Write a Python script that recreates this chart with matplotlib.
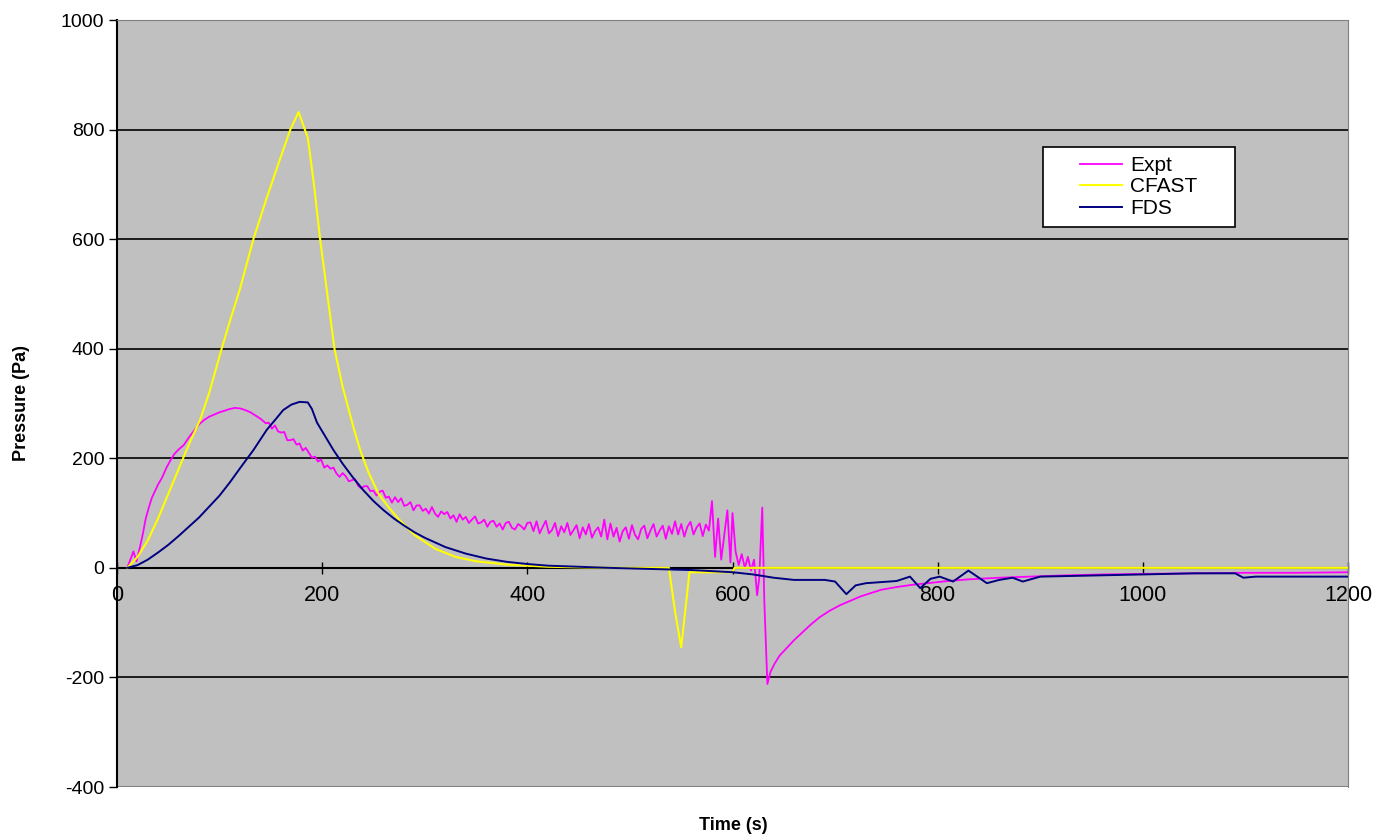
#!/usr/bin/env python3
"""
Pressure vs time: experiment compared with CFAST and FDS predictions
"""

import matplotlib.pyplot as plt
from matplotlib.patches import Rectangle

# Experimental pressure (Pa)
expt_t = [
    10, 13, 16, 19, 22, 25, 28, 31, 34, 37, 40, 44, 48, 52, 56, 60, 65, 70, 75, 80,
    85, 90, 95, 100, 105, 110, 115, 120, 125, 130, 135, 140, 145,
    148, 151, 154, 157, 160, 163, 166, 169, 172, 175, 178, 181, 184, 187, 190, 193,
    196, 199, 202, 205, 208, 211, 214, 217, 220, 223, 226, 229, 232, 235, 238, 241,
    244, 247, 250,
    253, 256, 259, 262, 265, 268, 271, 274, 277, 280, 283, 286, 289, 292, 295, 298,
    301, 304, 307, 310, 313, 316, 319, 322, 325, 328, 331, 334, 337, 340, 343, 346,
    349, 352, 355, 358, 361, 364, 367, 370, 373, 376, 379, 382, 385, 388, 391, 394,
    397, 400,
    403, 406, 409, 412, 415, 418, 421, 424, 427, 430, 433, 436, 439, 442, 445, 448,
    451, 454, 457, 460, 463, 466, 469, 472, 475, 478, 481, 484, 487, 490, 493, 496,
    499, 502, 505, 508, 511, 514, 517, 520, 523, 526, 529, 532, 535, 538, 541, 544,
    547, 550, 553, 556, 559, 562, 565, 568, 571, 574, 577,
    580, 583, 586, 589, 592, 595, 598, 600, 603, 606, 609, 612, 615, 618, 621, 624,
    626, 629, 631, 634, 637, 641, 646, 652, 660, 668, 676, 685, 695, 705, 715, 725,
    735, 745, 760, 775, 790, 810, 830, 860, 890, 920, 960, 1000, 1050, 1100, 1150, 1200,
]
expt_p = [
    0, 15, 30, 12, 35, 60, 90, 110, 128, 140, 152, 165, 182, 196, 208, 216, 224, 238, 250, 262,
    270, 276, 280, 284, 287, 290, 292, 291, 288, 284, 278, 272, 264,
    265, 254, 260, 249, 247, 248, 233, 233, 235, 225, 227, 214, 219, 210, 201, 203,
    194, 198, 183, 187, 181, 183, 172, 166, 173, 167, 158, 160, 162, 150, 145, 149,
    149, 140, 141,
    132, 139, 141, 128, 130, 119, 129, 120, 127, 113, 115, 120, 105, 114, 114, 104,
    108, 99, 111, 99, 93, 103, 98, 102, 90, 96, 84, 98, 88, 93, 82, 88,
    94, 81, 83, 88, 75, 84, 86, 75, 81, 70, 82, 84, 73, 70, 80, 76,
    70, 82,
    83, 67, 85, 63, 75, 86, 63, 69, 82, 58, 76, 65, 82, 60, 69, 78,
    54, 74, 61, 80, 55, 67, 74, 57, 88, 52, 81, 57, 73, 48, 67, 74,
    53, 78, 60, 52, 71, 77, 54, 68, 80, 57, 68, 77, 53, 76, 62, 85,
    61, 80, 57, 75, 84, 61, 74, 81, 58, 79, 68,
    122, 20, 90, 15, 60, 105, 10, 100, 30, 5, 25, 0, 20, -5, 15, -50,
    -20, 110, -60, -212, -190, -175, -160, -148, -132, -118, -104, -90, -78, -68, -60, -52,
    -46, -40, -35, -31, -28, -24, -21, -18, -16, -14, -12, -11, -10, -9, -9, -8,
]

# CFAST prediction (Pa)
cfast_t = [
    10, 20, 30, 40, 50, 60, 70, 81, 90, 102, 110, 120, 133, 145, 155, 169, 177,
    186, 192, 198, 205, 212, 220, 230, 237, 245, 255, 265, 275, 290, 310, 330, 350,
    380, 420, 480, 538, 544, 550, 555, 558, 600, 602, 1200,
]
cfast_p = [
    0, 20, 50, 90, 135, 180, 225, 270, 320, 400, 450, 510, 600, 670, 725, 800, 832,
    785, 700, 600, 500, 400, 330, 260, 215, 175, 135, 110, 88, 60, 35, 20, 12,
    6, 2, 0, 0, -80, -145, -60, -8, -8, 0, 0,
]

# FDS prediction (Pa)
fds_t = [
    10, 20, 30, 40, 50, 60, 70, 80, 90, 100, 110, 120, 133, 146, 155, 162, 170, 178,
    186, 190, 195, 203, 211, 220, 230, 240, 250, 260, 270, 280, 290, 300, 320, 340,
    360, 380, 400, 420, 450, 480, 500, 540, 560, 580, 600, 620, 640, 660, 690, 700,
    711, 720, 730, 745, 760, 773, 783, 793, 802, 815, 830, 848, 860, 873, 883, 900,
    950, 1000, 1050, 1090, 1098, 1110, 1200,
]
fds_p = [
    0, 5, 15, 28, 42, 58, 75, 92, 112, 132, 156, 182, 215, 252, 272, 288, 298, 303,
    302, 290, 265, 240, 215, 190, 165, 142, 122, 105, 90, 77, 65, 55, 38, 26,
    17, 11, 7, 4, 2, 0, -1, -3, -4, -6, -8, -12, -18, -22, -22, -25,
    -48, -32, -28, -26, -24, -16, -37, -20, -16, -25, -5, -28, -22, -18, -25, -16,
    -14, -12, -10, -10, -18, -16, -16,
]

x_ticks = [0, 200, 400, 600, 800, 1000, 1200]
y_ticks = [-400, -200, 0, 200, 400, 600, 800, 1000]

plt.rcParams["font.family"] = ["Liberation Sans", "DejaVu Sans"]
plt.rcParams["axes.unicode_minus"] = False

fig = plt.figure(figsize=(13.77, 8.4), dpi=100)
ax = fig.add_axes([117 / 1377, 1 - 787 / 840, 1231 / 1377, 767 / 840])
ax.set_facecolor("#C0C0C0")

for y in y_ticks[1:]:
    if y != 0:
        ax.axhline(y, color="black", linewidth=1.2, zorder=1)
ax.axhline(-400, color="#808080", linewidth=1.5, zorder=1)

ax.plot(expt_t, expt_p, color="#FF00FF", linewidth=1.3, label="Expt", zorder=3)
ax.plot(cfast_t, cfast_p, color="#FFFF00", linewidth=1.5, label="CFAST", zorder=3)
ax.plot(fds_t, fds_p, color="#000080", linewidth=1.4, label="FDS", zorder=3)

ax.set_xlim(0, 1200)
ax.set_ylim(-400, 1000)
ax.set_xticks(x_ticks)
ax.set_yticks(y_ticks)

ax.spines["bottom"].set_position(("data", 0))
ax.spines["bottom"].set_color("black")
ax.spines["bottom"].set_linewidth(1.5)
ax.spines["bottom"].set_zorder(2)
ax.spines["left"].set_linewidth(1.5)
ax.spines["top"].set_color("#808080")
ax.spines["right"].set_color("#808080")

ax.tick_params(axis="x", direction="inout", length=8, width=1, labelsize=15.5, pad=8)
ax.tick_params(axis="y", direction="out", length=6, width=1, labelsize=14, pad=3)

fig.text(22 / 1377, 1 - 403 / 840, "Pressure (Pa)", rotation=90,
         ha="center", va="center", fontsize=13, fontweight="bold")
fig.text(733 / 1377, 1 - 825 / 840, "Time (s)",
         ha="center", va="center", fontsize=13, fontweight="bold")

# legend box drawn separately to get the wide Excel-style frame
box_x0, box_x1 = (1043 - 117) / 1231, (1235 - 117) / 1231
box_y0, box_y1 = 1 - (227 - 20) / 767, 1 - (147 - 20) / 767
ax.add_patch(Rectangle((box_x0, box_y0), box_x1 - box_x0, box_y1 - box_y0,
                       transform=ax.transAxes, facecolor="white",
                       edgecolor="black", linewidth=1.2, zorder=4))
ax.legend(loc="center", bbox_to_anchor=((box_x0 + box_x1) / 2, (box_y0 + box_y1) / 2),
          frameon=False, fontsize=15, handlelength=2.0, handletextpad=0.4,
          labelspacing=0.12, borderpad=0.2)

plt.savefig("out.png", dpi=100)
